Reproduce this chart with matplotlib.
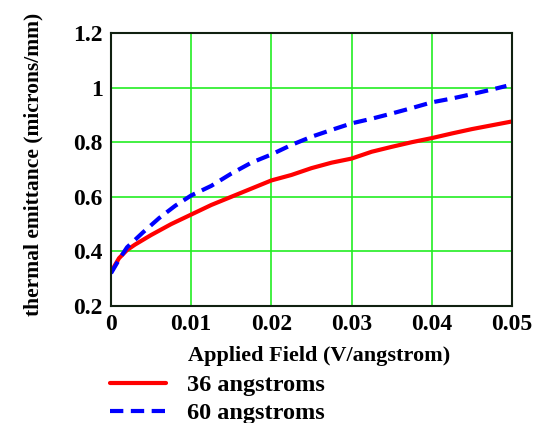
import matplotlib
matplotlib.use('Agg')
import matplotlib.pyplot as plt

# values
field_36 = [0, 0.001, 0.002, 0.003, 0.005, 0.0075, 0.01, 0.0125, 0.015, 0.0175,
            0.02, 0.0225, 0.025, 0.0275, 0.03, 0.0325, 0.035, 0.0375, 0.04,
            0.0425, 0.045, 0.0475, 0.05]
emit_36 = [0.325, 0.375, 0.405, 0.425, 0.46, 0.50, 0.535, 0.57, 0.60, 0.63,
           0.66, 0.68, 0.705, 0.725, 0.74, 0.765, 0.783, 0.80, 0.815,
           0.832, 0.848, 0.862, 0.876]

field_60 = [0, 0.001, 0.002, 0.004, 0.006, 0.008, 0.01, 0.0125, 0.015, 0.0175,
            0.02, 0.0225, 0.025, 0.0275, 0.03, 0.0325, 0.035, 0.0375, 0.04,
            0.0425, 0.045, 0.0475, 0.0493]
emit_60 = [0.32, 0.37, 0.415, 0.47, 0.522, 0.567, 0.605, 0.64, 0.685, 0.725,
           0.755, 0.79, 0.82, 0.845, 0.869, 0.886, 0.905, 0.925, 0.946,
           0.96, 0.976, 0.993, 1.006]

x_ticks = [0, 0.01, 0.02, 0.03, 0.04, 0.05]
x_tick_labels = ['0', '0.01', '0.02', '0.03', '0.04', '0.05']
y_ticks = [0.2, 0.4, 0.6, 0.8, 1.0, 1.2]
y_tick_labels = ['0.2', '0.4', '0.6', '0.8', '1', '1.2']

plt.rcParams['font.family'] = ['Liberation Serif', 'DejaVu Serif']
plt.rcParams['font.weight'] = 'bold'

fig = plt.figure(figsize=(5.49, 4.23), dpi=100)
ax = fig.add_axes([111/549, 1-306/423, 401/549, 273/423])

ax.plot(field_36, emit_36, color='#ff0000', lw=3.0, label='36 angstroms',
        solid_capstyle='round')
ax.plot(field_60, emit_60, color='#0000ff', lw=3.0, ls=(0, (3.2, 1.8)),
        label='60 angstroms')

ax.set_xlim(0, 0.05)
ax.set_ylim(0.2, 1.2)
ax.set_xticks(x_ticks)
ax.set_xticklabels(x_tick_labels)
ax.set_yticks(y_ticks)
ax.set_yticklabels(y_tick_labels)
ax.tick_params(length=0, labelsize=17, pad=6)
ax.grid(True, color='#22ee22', lw=1.2)
ax.set_axisbelow(True)
for s in ax.spines.values():
    s.set_color('#102010')
    s.set_linewidth(1.5)

ax.set_xlabel('Applied Field (V/angstrom)', fontsize=16, fontweight='bold')
ax.set_ylabel('thermal emittance (microns/mm)', fontsize=15.5, fontweight='bold')
ax.xaxis.set_label_coords(0.52, -0.145)
ax.yaxis.set_label_coords(-0.168, 0.52)

fig.legend(loc='upper left', bbox_to_anchor=(110/549, 1-374/423), frameon=False,
           fontsize=17.5, handlelength=2.3, handletextpad=0.85, labelspacing=0.25,
           borderaxespad=0, borderpad=0)

fig.savefig('out.png', dpi=100)
